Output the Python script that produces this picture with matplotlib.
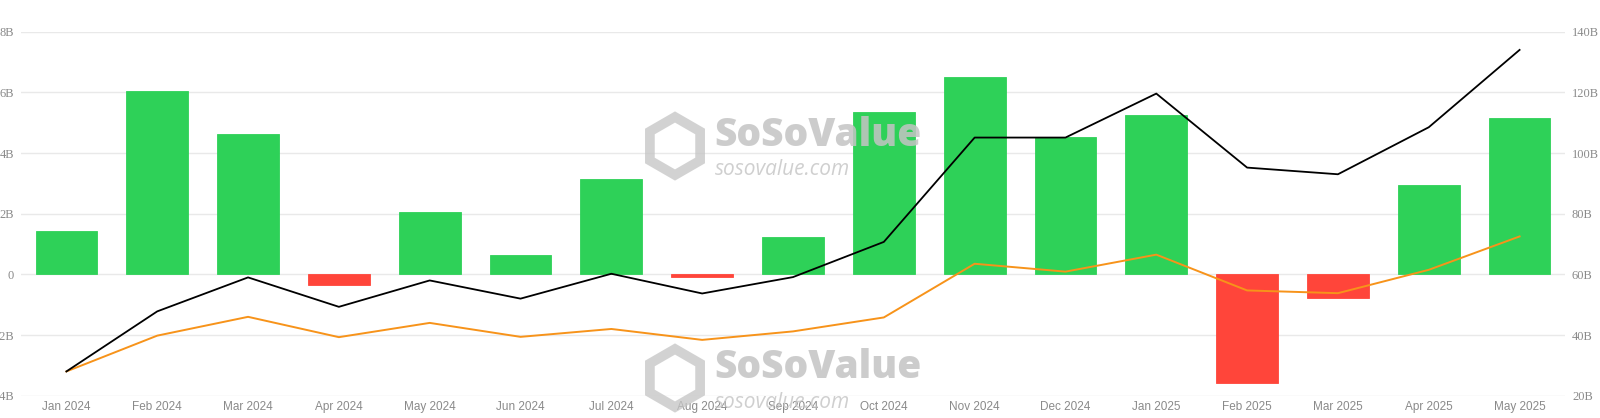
import numpy as np
import matplotlib.pyplot as plt
from matplotlib.patches import RegularPolygon

# monthly data
months = ['Jan 2024', 'Feb 2024', 'Mar 2024', 'Apr 2024', 'May 2024', 'Jun 2024',
          'Jul 2024', 'Aug 2024', 'Sep 2024', 'Oct 2024', 'Nov 2024', 'Dec 2024',
          'Jan 2025', 'Feb 2025', 'Mar 2025', 'Apr 2025', 'May 2025']
net_inflow = [1.44, 6.05, 4.64, -0.34, 2.05, 0.64, 3.13, -0.09, 1.24, 5.35,
              6.51, 4.54, 5.27, -3.58, -0.77, 2.95, 5.15]  # B, left axis
net_assets = [28.0, 47.8, 59.0, 49.3, 58.0, 52.0, 60.2, 53.7, 59.1, 70.7,
              105.1, 105.1, 119.6, 95.2, 93.0, 108.5, 134.0]  # B, right axis
ibit_assets = [28.0, 39.8, 46.0, 39.3, 44.0, 39.4, 42.0, 38.4, 41.2, 45.8,
               63.5, 60.9, 66.5, 54.7, 53.8, 61.5, 72.5]  # B, right axis

left_ticks = [-4, -2, 0, 2, 4, 6, 8]
right_ticks = [20, 40, 60, 80, 100, 120, 140]

GREEN = '#2ed158'
RED = '#ff453a'
ORANGE = '#f7931a'
GRID = '#e9e9e9'
LABEL = '#8a8a8a'
MARK = '#c4c4c4'

fig = plt.figure(figsize=(16, 4.18), dpi=100)
ax = fig.add_axes([21 / 1600, 1 - 395.7 / 418, (1565 - 21) / 1600, (395.7 - 31.7) / 418])
ax2 = ax.twinx()

x = np.arange(len(months))
colors = [GREEN if v >= 0 else RED for v in net_inflow]
ax.bar(x, net_inflow, width=0.68, color=colors, edgecolor=colors, linewidth=0.6, zorder=2)

ax2.plot(x, ibit_assets, color=ORANGE, linewidth=1.4, zorder=3)
ax2.plot(x, net_assets, color='black', linewidth=1.3, zorder=4)

ax.set_xlim(-0.5, len(months) - 0.5)
ax.set_ylim(-4, 8)
ax2.set_ylim(20, 140)
ax.set_yticks(left_ticks)
ax.set_yticklabels([('%dB' % t) if t != 0 else '0' for t in left_ticks],
                   family='Liberation Serif', fontsize=9, color=LABEL)
ax2.set_yticks(right_ticks)
ax2.set_yticklabels(['%dB' % t for t in right_ticks],
                    family='Liberation Serif', fontsize=9, color=LABEL)
ax.set_xticks(x)
ax.set_xticklabels(months, fontsize=8.5, color=LABEL, family='Liberation Sans')

ax.yaxis.grid(True, color=GRID, linewidth=1.0, zorder=0)
ax.set_axisbelow(True)
for a in (ax, ax2):
    for s in a.spines.values():
        s.set_visible(False)
ax.tick_params(axis='y', length=0, pad=5)
ax.tick_params(axis='x', length=0, pad=4)
ax2.tick_params(axis='y', length=0, pad=5)

# watermarks (logo + text), positions in inches
for yc in (2.72, 0.40):
    hexagon = RegularPolygon((6.75, yc), numVertices=6, radius=0.29, orientation=0,
                             transform=fig.dpi_scale_trans, facecolor='none',
                             edgecolor=MARK, linewidth=7, alpha=0.75, zorder=10)
    fig.patches.append(hexagon)
    fig.text(7.14, yc + 0.10, 'SoSoValue', fontsize=28, fontweight='heavy',
             color=MARK, alpha=0.85, family='Open Sans', va='center',
             transform=fig.dpi_scale_trans, zorder=10)
    fig.text(7.15, yc - 0.24, 'sosovalue.com', fontsize=15, fontstyle='italic',
             color=MARK, alpha=0.8, family='Open Sans', va='center',
             transform=fig.dpi_scale_trans, zorder=10)

fig.savefig('out.png', dpi=100)
